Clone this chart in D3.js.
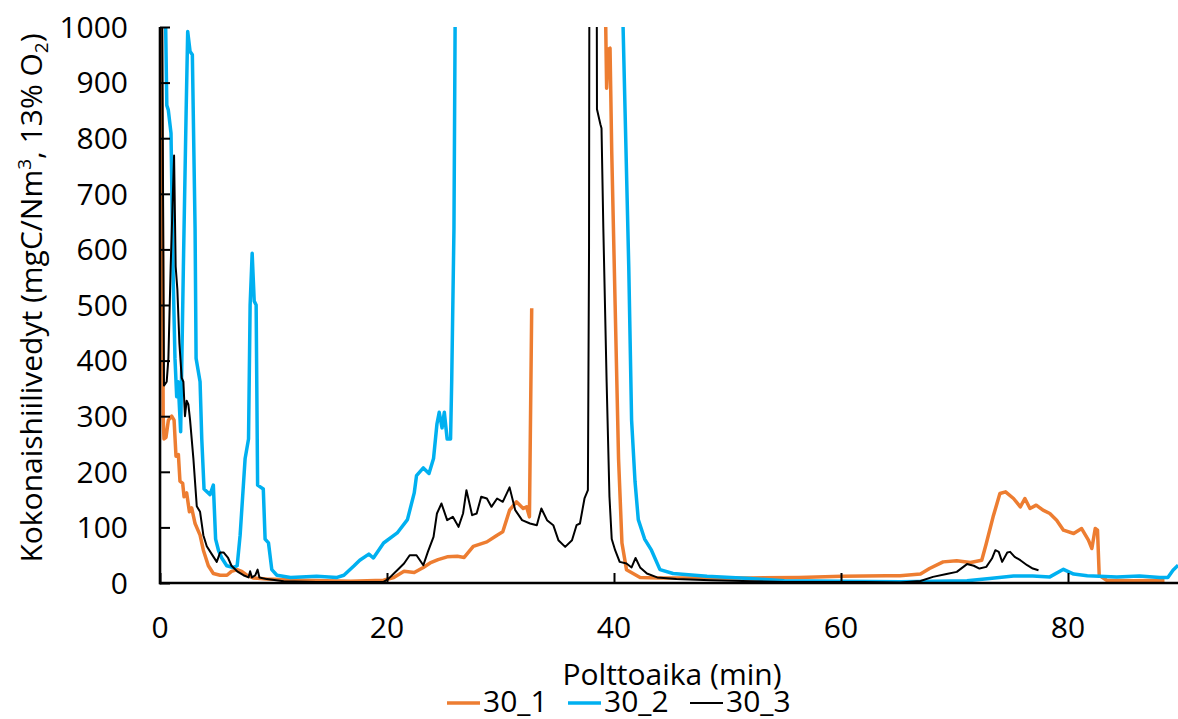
<!DOCTYPE html>
<html>
<head>
<meta charset="utf-8">
<script src="https://cdn.jsdelivr.net/npm/d3@7"></script>
<style>
  body { margin: 0; background: #fff; }
  #chart { width: 1178px; height: 719px; }
  text { font-family: "Open Sans", sans-serif; fill: #000; }
</style>
</head>
<body>
<div id="chart"></div>
<script>
// time (min) and concentration readings
// values above 1000 sit off the top of the plot and get clipped
const run1 = [
  [0.05, 1400], [0.12, 1000], [0.22, 600], [0.28, 300], [0.35, 259], [0.53, 262], [0.74, 293],
  [1.03, 300], [1.24, 293], [1.41, 228], [1.62, 231], [1.76, 183], [2.0, 179], [2.12, 155],
  [2.35, 162], [2.59, 128], [2.79, 135], [3.09, 107], [3.53, 86], [3.82, 59], [4.26, 31],
  [4.7, 17], [5.3, 14], [5.9, 14], [6.3, 21], [6.8, 24], [7.2, 21], [7.65, 14], [8.2, 9],
  [9.4, 7], [12.4, 5], [16.8, 3], [19.7, 5], [20.6, 10], [21.5, 21], [22.4, 19], [23.2, 28],
  [23.8, 36], [24.5, 42], [25.3, 47], [26.2, 48], [26.8, 46], [27.6, 66], [28.8, 74],
  [29.7, 86], [30.2, 92], [30.8, 131], [31.4, 146], [32.0, 134], [32.3, 137], [32.55, 119],
  [32.75, 494], null,
  [39.2, 1100], [39.35, 890], [39.5, 960], [39.65, 962], [39.8, 776], [40.1, 500], [40.4, 224],
  [40.7, 72], [41.1, 24], [42.3, 10], [44, 9], [48, 9], [52, 9], [56.3, 10], [60.1, 12],
  [64, 13], [65.2, 13], [67, 16], [67.8, 26], [69, 38], [70.2, 40], [71.4, 37], [72.4, 41],
  [72.8, 71], [73.4, 119], [74.0, 161], [74.5, 164], [75.2, 152], [75.8, 137], [76.2, 152],
  [76.65, 134], [77.2, 140], [77.8, 131], [78.4, 125], [79.0, 113], [79.6, 95], [80.5, 89],
  [81.2, 98], [81.8, 77], [82.1, 62], [82.4, 98], [82.6, 95], [82.75, 14], [83.4, 5],
  [85.7, 4], [88.5, 5]
];

const run2 = [
  [0.4, 1400], [0.5, 1000], [0.6, 859], [0.73, 851], [0.97, 809], [1.15, 560], [1.32, 404],
  [1.47, 335], [1.6, 362], [1.82, 272], [2.06, 569], [2.3, 845], [2.44, 992], [2.65, 956],
  [2.85, 950], [3.09, 638], [3.18, 404], [3.53, 362], [3.68, 259], [3.88, 169], [4.41, 159],
  [4.7, 176], [4.9, 79], [5.15, 59], [5.44, 45], [5.88, 31], [6.47, 28], [6.8, 31], [7.06, 86],
  [7.5, 224], [7.8, 259], [7.94, 500], [8.12, 593], [8.3, 507], [8.47, 500], [8.6, 176],
  [9.1, 169], [9.26, 79], [9.56, 72], [9.85, 24], [10.3, 14], [11.5, 10], [13.8, 12],
  [15.6, 10], [16.2, 14], [17.1, 31], [17.6, 41], [18.4, 52], [18.8, 45], [19.7, 72],
  [20.9, 90], [21.8, 114], [22.4, 162], [22.6, 193], [23.2, 207], [23.7, 197], [24.1, 224],
  [24.4, 286], [24.6, 307], [24.85, 279], [25.05, 307], [25.3, 259], [25.6, 259], [25.7, 362],
  [25.9, 638], [26.0, 1000], [26.3, 1500], [40.5, 1500], [40.8, 1000], [41.3, 569],
  [41.55, 293], [41.85, 183], [42.14, 114], [42.7, 79], [43.3, 59], [44.05, 24], [45.2, 17],
  [48.2, 12], [52, 8], [55, 4], [60, 3], [65.2, 2.4], [71.1, 4], [73.1, 8], [75.2, 12.6],
  [76.9, 12.6], [78.4, 11], [79.6, 24.6], [80.5, 16], [81.7, 13], [84.3, 11], [86.3, 12.6],
  [88.1, 10], [88.8, 10], [89.25, 23], [89.7, 32]
];

const run3 = [
  [0.1, 1400], [0.2, 1000], [0.35, 355], [0.59, 362], [0.74, 404], [0.94, 569], [1.24, 769],
  [1.38, 569], [1.53, 528], [1.71, 431], [1.91, 369], [2.06, 362], [2.2, 300], [2.35, 328],
  [2.5, 321], [2.65, 293], [2.94, 224], [3.24, 138], [3.53, 128], [3.82, 86], [4.12, 66],
  [4.56, 52], [5.0, 38], [5.3, 55], [5.6, 55], [6.0, 45], [6.3, 31], [6.8, 21], [7.35, 14],
  [7.8, 10], [7.94, 21], [8.1, 10], [8.4, 14], [8.6, 24], [8.76, 10], [9.4, 7], [10.9, 3],
  [13.8, 2], [19.7, 2], [20.1, 7], [20.9, 23], [21.5, 35], [22.0, 50], [22.6, 50], [23.2, 32],
  [23.6, 56], [24.1, 83], [24.4, 125], [24.8, 143], [25.3, 113], [25.8, 119], [26.3, 101],
  [26.7, 125], [27.0, 167], [27.5, 122], [27.9, 125], [28.3, 155], [28.8, 152], [29.2, 137],
  [29.7, 152], [30.2, 146], [30.8, 172], [31.3, 131], [31.9, 113], [32.6, 107], [33.2, 104],
  [33.6, 134], [34.1, 113], [34.65, 104], [35.1, 77], [35.7, 65], [36.3, 77], [36.7, 104],
  [37.0, 107], [37.4, 152], [37.7, 167], [37.8, 600], [37.85, 1400], [38.45, 1400],
  [38.5, 852], [38.8, 825], [38.9, 818], [39.06, 638], [39.35, 362], [39.6, 155], [39.8, 79],
  [40.1, 59], [40.5, 38], [41.1, 35], [41.55, 28], [41.9, 45], [42.3, 28], [42.9, 17],
  [43.8, 10], [45.5, 7], [48.5, 5], [55, 2], [62, 2], [65.2, 1], [67, 3.6], [68.1, 11],
  [69.3, 16], [70.2, 20], [71.1, 34], [71.7, 31], [72.2, 26], [72.8, 29], [73.3, 44],
  [73.6, 59], [73.9, 56], [74.2, 38], [74.65, 55], [74.9, 56], [75.3, 47], [75.8, 41],
  [76.4, 32], [76.9, 26], [77.4, 23]
];

const seriesNames = ["30_1", "30_2", "30_3"];
const seriesColors = ["#ED7D31", "#00B0F0", "#000000"];
const seriesWidths = [3.5, 3.5, 2];
const xTicks = [0, 20, 40, 60, 80];
const yTicks = [0, 100, 200, 300, 400, 500, 600, 700, 800, 900, 1000];

const width = 1178;
const height = 719;
const fontSize = 30;

const svg = d3.select("#chart")
  .append("svg")
  .attr("width", width)
  .attr("height", height);

const x = d3.scaleLinear().domain([0, 90]).range([160, 1181.5]);
const y = d3.scaleLinear().domain([0, 1000]).range([583, 27]);

// clip everything to the plot box
svg.append("defs").append("clipPath")
  .attr("id", "plot")
  .append("rect")
  .attr("x", x(0))
  .attr("y", y(1000))
  .attr("width", width - x(0))
  .attr("height", y(0) - y(1000) + 4);

const line = d3.line()
  .defined((d) => d !== null)
  .x((d) => x(d[0]))
  .y((d) => y(d[1]));

const lines = svg.append("g").attr("clip-path", "url(#plot)");
[run1, run2, run3].forEach((data, i) => {
  lines.append("path")
    .datum(data)
    .attr("d", line)
    .attr("fill", "none")
    .attr("stroke", seriesColors[i])
    .attr("stroke-width", seriesWidths[i])
    .attr("stroke-linejoin", "round");
});

// axes, ticks pointing inwards
const xAxis = svg.append("g").attr("transform", `translate(0,${y(0)})`);
xAxis.call(d3.axisBottom(x).tickValues(d3.range(0, 91, 4)).tickSize(-7).tickFormat(""));
xAxis.call(d3.axisBottom(x).tickValues(xTicks).tickSize(-10).tickFormat(""));
xAxis.selectAll(".domain").remove();
xAxis.selectAll("line").attr("stroke", "#000").attr("stroke-width", 2);
xAxis.append("line")
  .attr("x1", x(0) - 1).attr("x2", width)
  .attr("stroke", "#000").attr("stroke-width", 2.6);

xAxis.selectAll(".lbl")
  .data(xTicks)
  .enter()
  .append("text")
  .attr("class", "lbl")
  .attr("x", (d) => x(d))
  .attr("y", 55)
  .attr("text-anchor", "middle")
  .attr("font-size", fontSize)
  .text((d) => d);

const yAxis = svg.append("g").attr("transform", `translate(${x(0)},0)`);
yAxis.call(d3.axisLeft(y).tickValues(d3.range(0, 1001, 20)).tickSize(-6).tickFormat(""));
yAxis.call(d3.axisLeft(y).tickValues(yTicks).tickSize(-10).tickFormat(""));
yAxis.selectAll(".domain").remove();
yAxis.selectAll("line").attr("stroke", "#000").attr("stroke-width", 2);
yAxis.append("line")
  .attr("y1", y(1000)).attr("y2", y(0) + 1.3)
  .attr("stroke", "#000").attr("stroke-width", 2.6);

yAxis.selectAll(".lbl")
  .data(yTicks)
  .enter()
  .append("text")
  .attr("class", "lbl")
  .attr("x", -32)
  .attr("y", (d) => y(d))
  .attr("dy", "0.36em")
  .attr("text-anchor", "end")
  .attr("font-size", fontSize)
  .text((d) => d);

// axis titles
svg.append("text")
  .attr("x", 672)
  .attr("y", 685)
  .attr("text-anchor", "middle")
  .attr("font-size", fontSize)
  .text("Polttoaika (min)");

const yTitle = svg.append("text")
  .attr("transform", "translate(42,298) rotate(-90)")
  .attr("text-anchor", "middle")
  .attr("font-size", fontSize);
yTitle.append("tspan").text("Kokonaishiilivedyt (mgC/Nm");
yTitle.append("tspan").attr("font-size", 19).attr("dy", -11).text("3");
yTitle.append("tspan").attr("dy", 11).text(", 13% O");
yTitle.append("tspan").attr("font-size", 19).attr("dy", 6).text("2");
yTitle.append("tspan").attr("dy", -6).text(")");

// legend
const legendX = [447, 568, 690];
const legend = svg.append("g");
seriesNames.forEach((name, i) => {
  legend.append("line")
    .attr("x1", legendX[i]).attr("x2", legendX[i] + 33)
    .attr("y1", 703).attr("y2", 703)
    .attr("stroke", seriesColors[i])
    .attr("stroke-width", seriesWidths[i]);
  legend.append("text")
    .attr("x", legendX[i] + 36)
    .attr("y", 712)
    .attr("font-size", fontSize)
    .text(name);
});
</script>
</body>
</html>
